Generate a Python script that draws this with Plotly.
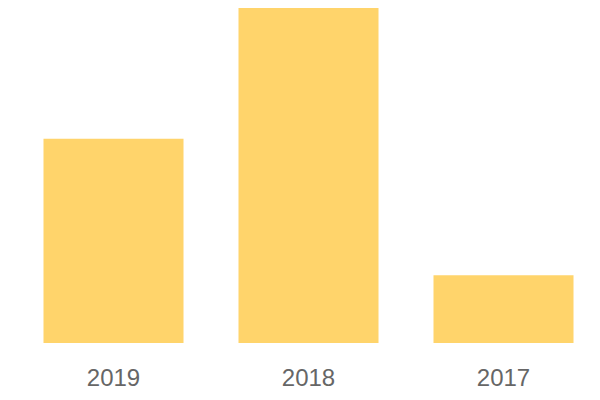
import plotly.graph_objects as go

categories = ["2019", "2018", "2017"]
values = [61, 100, 20.2]

fig = go.Figure(go.Bar(
    x=categories, y=values,
    marker=dict(color="#FFD46B", line=dict(width=0)),
    hoverinfo="skip",
))
fig.update_layout(
    width=600, height=400,
    margin=dict(l=8, r=7, t=0, b=65),
    paper_bgcolor="white", plot_bgcolor="white",
    bargap=0.282,
    showlegend=False,
    font=dict(family="Liberation Sans, Arial, sans-serif", size=24, color="#666666"),
    xaxis=dict(showgrid=False, showline=False, zeroline=False, ticks="",
               tickfont=dict(size=24, color="#666666"), ticklabelstandoff=18),
    yaxis=dict(visible=False, range=[0, 100]),
)
fig.write_html("out.html")
